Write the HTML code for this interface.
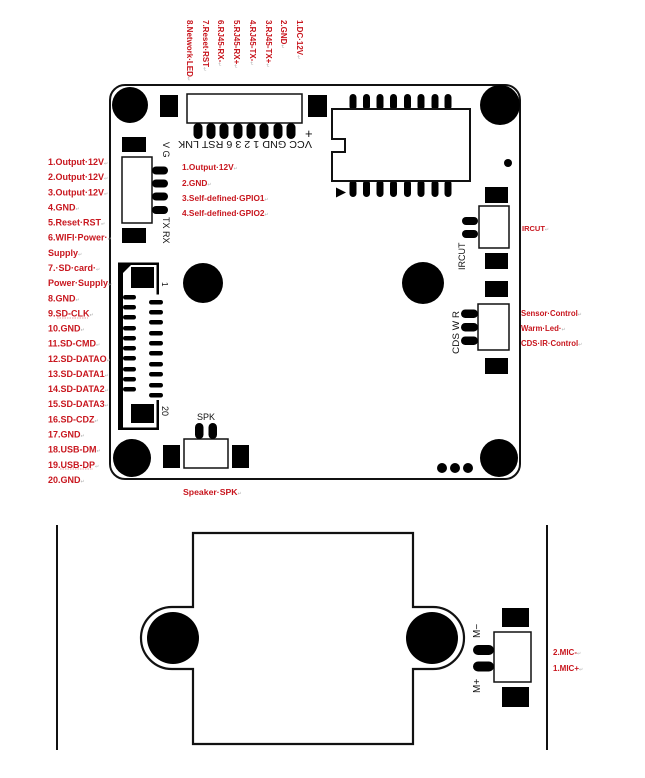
<!DOCTYPE html>
<html><head><meta charset="utf-8"><style>
html,body{margin:0;padding:0;background:#fff;}
svg{display:block;}
.r{fill:#c8161e;font-family:"Liberation Sans",sans-serif;font-weight:bold;}
.k{fill:#111;font-family:"Liberation Sans",sans-serif;}
.m{fill:#aaa;font-size:5px;font-weight:normal;}
</style></head><body>
<svg width="645" height="778" viewBox="0 0 645 778" xmlns="http://www.w3.org/2000/svg">
<rect width="645" height="778" fill="#fff"/>

<!-- Top vertical red labels -->
<g class="r" font-size="8">
<text transform="translate(297,20) rotate(90)">1.DC·12V<tspan class="m">↵</tspan></text>
<text transform="translate(281,20) rotate(90)">2.GND<tspan class="m">↵</tspan></text>
<text transform="translate(266,20) rotate(90)">3.RJ45-TX+<tspan class="m">↵</tspan></text>
<text transform="translate(250,20) rotate(90)">4.RJ45-TX-<tspan class="m">↵</tspan></text>
<text transform="translate(234,20) rotate(90)">5.RJ45-RX+<tspan class="m">↵</tspan></text>
<text transform="translate(218,20) rotate(90)">6.RJ45-RX-<tspan class="m">↵</tspan></text>
<text transform="translate(203,20) rotate(90)">7.Reset·RST<tspan class="m">↵</tspan></text>
<text transform="translate(187,20) rotate(90)">8.Network·LED<tspan class="m">↵</tspan></text>
</g>

<!-- Board -->
<rect x="110" y="85" width="410" height="394" rx="15" fill="none" stroke="#111" stroke-width="2"/>

<!-- Mount holes -->
<g fill="#000">
<circle cx="130" cy="105" r="18"/>
<circle cx="500" cy="105" r="20"/>
<circle cx="132" cy="458" r="19"/>
<circle cx="499" cy="458" r="19"/>
<circle cx="203" cy="283" r="20"/>
<circle cx="423" cy="283" r="21"/>
<circle cx="508" cy="163" r="4"/>
<circle cx="442" cy="468" r="5"/>
<circle cx="455" cy="468" r="5"/>
<circle cx="468" cy="468" r="5"/>
</g>

<!-- Top connector -->
<rect x="160" y="95" width="18" height="22" fill="#000"/>
<rect x="308" y="95" width="19" height="22" fill="#000"/>
<rect x="187" y="94" width="115" height="29" fill="#fff" stroke="#111" stroke-width="1.5"/>
<g fill="#000">
<rect x="193.5" y="123" width="9" height="16" rx="4.5"/>
<rect x="206.5" y="123" width="9" height="16" rx="4.5"/>
<rect x="219.5" y="123" width="9" height="16" rx="4.5"/>
<rect x="233.5" y="123" width="9" height="16" rx="4.5"/>
<rect x="246.5" y="123" width="9" height="16" rx="4.5"/>
<rect x="259.5" y="123" width="9" height="16" rx="4.5"/>
<rect x="273.5" y="123" width="9" height="16" rx="4.5"/>
<rect x="286.5" y="123" width="9" height="16" rx="4.5"/>
</g>
<text class="k" font-size="10" transform="translate(312,141) rotate(180)" textLength="134" lengthAdjust="spacingAndGlyphs">VCC GND 1 2 3 6 RST LNK</text>
<text class="k" font-size="13" x="305" y="138">+</text>

<!-- Chip -->
<g fill="#000">
<rect x="349.5" y="94" width="7" height="16" rx="3.5"/>
<rect x="363" y="94" width="7" height="16" rx="3.5"/>
<rect x="376.5" y="94" width="7" height="16" rx="3.5"/>
<rect x="390" y="94" width="7" height="16" rx="3.5"/>
<rect x="404" y="94" width="7" height="16" rx="3.5"/>
<rect x="417.5" y="94" width="7" height="16" rx="3.5"/>
<rect x="431.5" y="94" width="7" height="16" rx="3.5"/>
<rect x="444.5" y="94" width="7" height="16" rx="3.5"/>
<rect x="349.5" y="180" width="7" height="17" rx="3.5"/>
<rect x="363" y="180" width="7" height="17" rx="3.5"/>
<rect x="376.5" y="180" width="7" height="17" rx="3.5"/>
<rect x="390" y="180" width="7" height="17" rx="3.5"/>
<rect x="404" y="180" width="7" height="17" rx="3.5"/>
<rect x="417.5" y="180" width="7" height="17" rx="3.5"/>
<rect x="431.5" y="180" width="7" height="17" rx="3.5"/>
<rect x="444.5" y="180" width="7" height="17" rx="3.5"/>
<polygon points="336,187.5 336,197.5 346,192.5"/>
</g>
<path d="M332,109 L470,109 L470,181 L332,181 L332,152 L345,152 L345,139 L332,139 Z" fill="#fff" stroke="#111" stroke-width="2"/>

<!-- Left 4-pin connector -->
<rect x="122" y="137" width="24" height="15" fill="#000"/>
<rect x="122" y="228" width="24" height="15" fill="#000"/>
<rect x="122" y="157" width="30" height="66" fill="#fff" stroke="#111" stroke-width="1.5"/>
<g fill="#000">
<rect x="152" y="166.5" width="16" height="8" rx="4"/>
<rect x="152" y="179.5" width="16" height="8" rx="4"/>
<rect x="152" y="192.5" width="16" height="8" rx="4"/>
<rect x="152" y="206" width="16" height="8" rx="4"/>
</g>
<text class="k" font-size="9" transform="translate(163,142) rotate(90)">V G</text>
<text class="k" font-size="9" transform="translate(163,217) rotate(90)">TX RX</text>

<!-- Middle red labels -->
<g class="r" font-size="8.3">
<text x="182" y="170">1.Output·12V<tspan class="m">↵</tspan></text>
<text x="182" y="186">2.GND<tspan class="m">↵</tspan></text>
<text x="182" y="201">3.Self-defined·GPIO1<tspan class="m">↵</tspan></text>
<text x="182" y="216">4.Self-defined·GPIO2<tspan class="m">↵</tspan></text>
</g>

<!-- Left red labels -->
<g class="r" font-size="9">
<text x="48" y="165">1.Output·12V<tspan class="m">↵</tspan></text>
<text x="48" y="180.1">2.Output·12V<tspan class="m">↵</tspan></text>
<text x="48" y="195.3">3.Output·12V<tspan class="m">↵</tspan></text>
<text x="48" y="210.4">4.GND<tspan class="m">↵</tspan></text>
<text x="48" y="225.6">5.Reset·RST<tspan class="m">↵</tspan></text>
<text x="48" y="240.7">6.WIFI·Power·<tspan class="m">↵</tspan></text>
<text x="48" y="255.8">Supply<tspan class="m">↵</tspan></text>
<text x="48" y="271">7.·SD·card·<tspan class="m">↵</tspan></text>
<text x="48" y="286.1">Power·Supply<tspan class="m">↵</tspan></text>
<text x="48" y="301.3">8.GND<tspan class="m">↵</tspan></text>
<text x="48" y="316.4">9.SD-CLK<tspan class="m">↵</tspan></text>
<text x="48" y="331.5">10.GND<tspan class="m">↵</tspan></text>
<text x="48" y="346.7">11.SD-CMD<tspan class="m">↵</tspan></text>
<text x="48" y="361.8">12.SD-DATAO<tspan class="m">↵</tspan></text>
<text x="48" y="377">13.SD-DATA1<tspan class="m">↵</tspan></text>
<text x="48" y="392.1">14.SD-DATA2<tspan class="m">↵</tspan></text>
<text x="48" y="407.2">15.SD-DATA3<tspan class="m">↵</tspan></text>
<text x="48" y="422.4">16.SD-CDZ<tspan class="m">↵</tspan></text>
<text x="48" y="437.5">17.GND<tspan class="m">↵</tspan></text>
<text x="48" y="452.7">18.USB-DM<tspan class="m">↵</tspan></text>
<text x="48" y="467.8">19.USB-DP<tspan class="m">↵</tspan></text>
<text x="48" y="483">20.GND<tspan class="m">↵</tspan></text>
</g>
<g stroke="#d04040" stroke-width="0.6" stroke-dasharray="1.5,1" fill="none">
<line x1="57" y1="318" x2="88" y2="318"/>
<line x1="60" y1="469" x2="93" y2="469"/>
</g>

<!-- SD connector -->
<g fill="#000">
<rect x="118" y="263" width="5" height="167"/>
<rect x="118" y="262.5" width="41" height="2.5"/>
<rect x="118" y="427.5" width="41" height="2.5"/>
<rect x="156.5" y="262.5" width="2.5" height="32"/>
<rect x="156.5" y="400" width="2.5" height="30"/>
<polygon points="123,265 131,265 123,273"/>
<rect x="131" y="267" width="23" height="21"/>
<rect x="131" y="404" width="23" height="19"/>
<rect x="123" y="295" width="13" height="4.5" rx="2.2"/>
<rect x="123" y="305" width="13" height="4.5" rx="2.2"/>
<rect x="123" y="315" width="13" height="4.5" rx="2.2"/>
<rect x="123" y="326" width="13" height="4.5" rx="2.2"/>
<rect x="123" y="336" width="13" height="4.5" rx="2.2"/>
<rect x="123" y="346" width="13" height="4.5" rx="2.2"/>
<rect x="123" y="356" width="13" height="4.5" rx="2.2"/>
<rect x="123" y="367" width="13" height="4.5" rx="2.2"/>
<rect x="123" y="377" width="13" height="4.5" rx="2.2"/>
<rect x="123" y="387" width="13" height="4.5" rx="2.2"/>
<rect x="149" y="300" width="14" height="4.5" rx="2.2"/>
<rect x="149" y="310" width="14" height="4.5" rx="2.2"/>
<rect x="149" y="320" width="14" height="4.5" rx="2.2"/>
<rect x="149" y="331" width="14" height="4.5" rx="2.2"/>
<rect x="149" y="341" width="14" height="4.5" rx="2.2"/>
<rect x="149" y="351" width="14" height="4.5" rx="2.2"/>
<rect x="149" y="362" width="14" height="4.5" rx="2.2"/>
<rect x="149" y="372" width="14" height="4.5" rx="2.2"/>
<rect x="149" y="383" width="14" height="4.5" rx="2.2"/>
<rect x="149" y="393" width="14" height="4.5" rx="2.2"/>
</g>
<text class="k" font-size="8" transform="translate(162,282) rotate(90)">1</text>
<text class="k" font-size="9" transform="translate(162,406) rotate(90)">20</text>

<!-- Speaker -->
<rect x="163" y="445" width="17" height="23" fill="#000"/>
<rect x="232" y="445" width="17" height="23" fill="#000"/>
<rect x="184" y="439" width="44" height="29" fill="#fff" stroke="#111" stroke-width="1.5"/>
<rect x="195" y="423" width="8.5" height="16" rx="4.2" fill="#000"/>
<rect x="208.5" y="423" width="8.5" height="16" rx="4.2" fill="#000"/>
<text class="k" font-size="9" x="206" y="420" text-anchor="middle">SPK</text>
<text class="r" font-size="8.7" x="183" y="495">Speaker·SPK<tspan class="m">↵</tspan></text>

<!-- IRCUT -->
<rect x="485" y="187" width="23" height="16" fill="#000"/>
<rect x="485" y="253" width="23" height="16" fill="#000"/>
<rect x="479" y="206" width="30" height="42" fill="#fff" stroke="#111" stroke-width="1.5"/>
<rect x="462" y="217" width="16" height="8" rx="4" fill="#000"/>
<rect x="462" y="230" width="16" height="8" rx="4" fill="#000"/>
<text class="k" font-size="9" transform="translate(465,270) rotate(-90)">IRCUT</text>
<text class="r" font-size="7.5" x="522" y="231">IRCUT<tspan class="m">↵</tspan></text>

<!-- Sensor connector -->
<rect x="485" y="281" width="23" height="16" fill="#000"/>
<rect x="485" y="358" width="23" height="16" fill="#000"/>
<rect x="478" y="304" width="31" height="46" fill="#fff" stroke="#111" stroke-width="1.5"/>
<rect x="461" y="309.5" width="17" height="8.5" rx="4.2" fill="#000"/>
<rect x="461" y="323" width="17" height="8.5" rx="4.2" fill="#000"/>
<rect x="461" y="336.5" width="17" height="8.5" rx="4.2" fill="#000"/>
<text class="k" font-size="9" transform="translate(459,354) rotate(-90)" textLength="43" lengthAdjust="spacingAndGlyphs">CDS W R</text>
<g class="r" font-size="7.8">
<text x="521" y="316">Sensor·Control<tspan class="m">↵</tspan></text>
<text x="521" y="331">Warm·Led·<tspan class="m">↵</tspan></text>
<text x="521" y="346">CDS·IR·Control<tspan class="m">↵</tspan></text>
</g>

<!-- Bottom: microphone board -->
<line x1="57" y1="525" x2="57" y2="750" stroke="#111" stroke-width="2"/>
<line x1="547" y1="525" x2="547" y2="750" stroke="#111" stroke-width="2"/>
<path d="M193,607 L193,533 L413,533 L413,607 L433,607 A31,31 0 0 1 433,669 L413,669 L413,744 L193,744 L193,669 L172,669 A31,31 0 0 1 172,607 Z" fill="#fff" stroke="#111" stroke-width="2.2"/>
<circle cx="173" cy="638" r="26" fill="#000"/>
<circle cx="432" cy="638" r="26" fill="#000"/>

<rect x="502" y="608" width="27" height="19" fill="#000"/>
<rect x="502" y="687" width="27" height="20" fill="#000"/>
<rect x="494" y="632" width="37" height="50" fill="#fff" stroke="#111" stroke-width="1.5"/>
<rect x="473" y="645" width="21" height="10" rx="5" fill="#000"/>
<rect x="473" y="661.5" width="21" height="10" rx="5" fill="#000"/>
<text class="k" font-size="10" transform="translate(480,638) rotate(-90)">M−</text>
<text class="k" font-size="10" transform="translate(480,693) rotate(-90)">M+</text>
<g class="r" font-size="8">
<text x="553" y="655">2.MIC-<tspan class="m">↵</tspan></text>
<text x="553" y="671">1.MIC+<tspan class="m">↵</tspan></text>
</g>
</svg>
</body></html>
